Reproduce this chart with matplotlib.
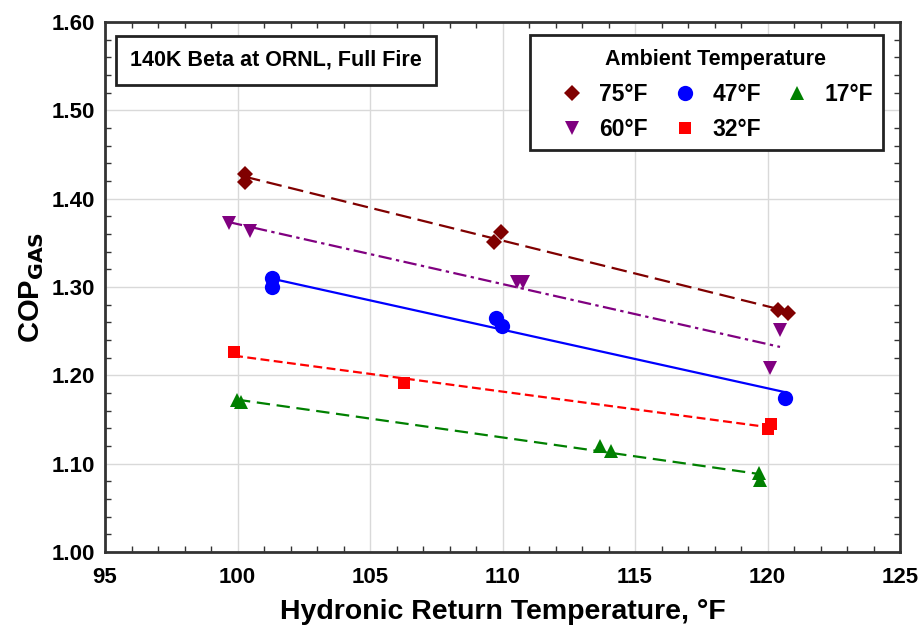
import numpy as np
import matplotlib
matplotlib.use('Agg')
import matplotlib.pyplot as plt
from matplotlib.patches import Rectangle
from matplotlib.ticker import MultipleLocator, FormatStrFormatter

plt.rcParams['font.family'] = ['Liberation Sans', 'DejaVu Sans']
plt.rcParams['font.weight'] = 'bold'

# data
labels = ['75°F', '60°F', '47°F', '32°F', '17°F']

x_75 = [100.28, 100.28, 109.68, 109.94, 120.40, 120.77]
y_75 = [1.428, 1.419, 1.351, 1.362, 1.274, 1.271]

x_60 = [99.68, 100.47, 110.55, 110.77, 120.47, 120.09]
y_60 = [1.372, 1.363, 1.306, 1.306, 1.251, 1.208]

x_47 = [101.30, 101.30, 109.75, 109.98, 120.66]
y_47 = [1.310, 1.300, 1.265, 1.256, 1.174]

x_32 = [99.87, 106.28, 120.13, 120.02]
y_32 = [1.226, 1.191, 1.145, 1.139]

x_17 = [99.98, 100.13, 113.68, 114.09, 119.68, 119.72]
y_17 = [1.172, 1.170, 1.120, 1.114, 1.089, 1.082]

series = [(x_75, y_75), (x_60, y_60), (x_47, y_47), (x_32, y_32), (x_17, y_17)]
colors = ['#800000', '#800080', '#0000ff', '#ff0000', '#008000']
markers = ['D', 'v', 'o', 's', '^']
msizes = [8, 10, 11, 9, 10]
dashes = [(7, 3), (6, 2, 1.5, 2), None, (4, 2), (6, 3)]

fig = plt.figure(figsize=(9.22, 6.3), dpi=100)
ax = fig.add_axes([0.1139, 0.1238, 0.8623, 0.8413])

for (xs, ys), lab, c, m, ms, d in zip(series, labels, colors, markers, msizes, dashes):
    xs = np.array(xs)
    ys = np.array(ys)
    slope, icpt = np.polyfit(xs, ys, 1)
    xfit = np.array([xs.min(), xs.max()])
    line, = ax.plot(xfit, slope * xfit + icpt, color=c, lw=1.6, zorder=2)
    if d is not None:
        line.set_dashes(d)
    ax.plot(xs, ys, linestyle='none', marker=m, color=c, markersize=ms,
            markeredgewidth=0, label=lab, zorder=3)

ax.set_xlim(95, 125)
ax.set_ylim(1.0, 1.6)
ax.xaxis.set_major_locator(MultipleLocator(5))
ax.xaxis.set_minor_locator(MultipleLocator(1))
ax.yaxis.set_major_locator(MultipleLocator(0.1))
ax.yaxis.set_minor_locator(MultipleLocator(0.02))
ax.yaxis.set_major_formatter(FormatStrFormatter('%.2f'))
ax.grid(True, which='major', color='#d9d9d9', lw=1)
ax.set_axisbelow(True)
ax.tick_params(which='both', direction='in', top=True, right=True,
               labelsize=16, color='#333333')
ax.tick_params(which='major', length=0)
ax.tick_params(axis='x', which='major', pad=11)
ax.tick_params(axis='y', which='major', pad=7)
ax.tick_params(which='minor', length=4, width=1)
for lbl in ax.get_xticklabels() + ax.get_yticklabels():
    lbl.set_fontweight('bold')
for sp in ax.spines.values():
    sp.set_linewidth(2)
    sp.set_color('#333333')

ax.set_xlabel('Hydronic Return Temperature, °F', fontsize=20.5, fontweight='bold', labelpad=8)
ax.set_ylabel('COP$_{\\mathbf{GAS}}$', fontsize=21, fontweight='bold', labelpad=4)

ax.text(0.0314, 0.928, '140K Beta at ORNL, Full Fire', transform=ax.transAxes,
        fontsize=15.5, fontweight='bold', va='center', ha='left',
        bbox=dict(boxstyle='square,pad=0.65', fc='white', ec='#222222', lw=2))

# legend frame drawn separately so the entries can sit off-centre like the original
ax.add_patch(Rectangle((0.5346, 0.7585), 0.444, 0.217, transform=ax.transAxes,
                       fc='white', ec='#222222', lw=2, zorder=4))
leg = ax.legend(ncol=3, loc='upper left', bbox_to_anchor=(0.557, 0.968),
                borderaxespad=0, title='Ambient Temperature', fontsize=16.5,
                title_fontsize=15.5, frameon=False,
                handlelength=1.2, handletextpad=0.6, columnspacing=1.0,
                borderpad=0.45, labelspacing=0.55, markerscale=1.0)
leg.set_zorder(5)
leg.get_title().set_fontweight('bold')
for t in leg.get_texts():
    t.set_fontweight('bold')

fig.savefig('out.png', dpi=100)
